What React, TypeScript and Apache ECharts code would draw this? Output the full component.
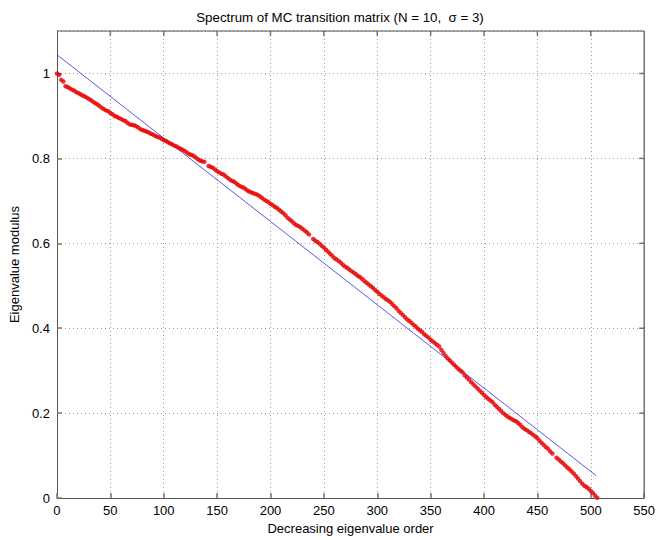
import React, { useEffect, useRef } from "react";
import * as echarts from "echarts";

const titleText = "Spectrum of MC transition matrix (N = 10,  \u03c3 = 3)";
const xName = "Decreasing eigenvalue order";
const yName = "Eigenvalue modulus";

// eigenvalue modulus sampled at every 2nd order index (0, 2, 4, ...); null = gap
const orderStep = 2;
const modulus: (number | null)[] = [
  1.0, 0.997, 0.985, 0.981, 0.97, 0.968, 0.965, 0.962, 0.96, 0.956,
  0.954, 0.951, 0.948, 0.946, 0.943, 0.94, 0.937, 0.933, 0.93, 0.927,
  0.923, 0.919, 0.916, 0.913, 0.911, 0.907, 0.904, 0.9, 0.898, 0.895,
  0.893, 0.89, 0.888, 0.884, 0.88, 0.879, 0.878, 0.876, 0.873, 0.869,
  0.867, 0.865, 0.863, 0.861, 0.858, 0.856, 0.853, 0.851, 0.849, 0.846,
  0.843, 0.841, 0.838, 0.835, 0.833, 0.83, 0.828, 0.825, 0.822, 0.82,
  0.817, 0.813, 0.81, 0.808, 0.806, 0.802, 0.798, 0.795, 0.793, 0.792,
  null, 0.782, 0.78, 0.778, 0.774, 0.77, 0.767, 0.764, 0.762, 0.758,
  0.754, 0.75, 0.747, 0.745, 0.741, 0.737, 0.734, 0.732, 0.729, 0.725,
  0.722, 0.72, 0.718, 0.716, 0.714, 0.711, 0.707, 0.703, 0.7, 0.697,
  0.693, 0.69, 0.686, 0.683, 0.679, 0.675, 0.671, 0.666, 0.66, 0.656,
  0.652, 0.647, 0.643, 0.641, 0.638, 0.634, 0.63, 0.626, 0.621, null,
  0.61, 0.606, 0.603, 0.599, 0.594, 0.59, 0.585, 0.58, 0.575, 0.57,
  0.565, 0.562, 0.558, 0.554, 0.549, 0.545, 0.542, 0.538, 0.534, 0.531,
  0.527, 0.523, 0.52, 0.516, 0.511, 0.507, 0.503, 0.499, 0.495, 0.49,
  0.486, 0.481, 0.477, 0.473, 0.469, 0.466, 0.462, 0.457, 0.452, 0.447,
  0.441, 0.436, 0.431, 0.426, 0.421, 0.417, 0.413, 0.408, 0.404, 0.399,
  0.395, 0.391, 0.386, 0.382, 0.378, 0.373, 0.369, 0.365, 0.361, 0.357,
  0.349, 0.342, 0.335, 0.329, 0.324, 0.319, 0.314, 0.309, 0.304, 0.3,
  0.296, 0.289, 0.284, 0.279, 0.273, 0.268, 0.263, 0.258, 0.253, 0.248,
  0.243, 0.238, 0.234, 0.23, 0.226, 0.22, 0.215, 0.21, 0.205, 0.2,
  0.196, 0.192, 0.189, 0.186, 0.183, 0.181, 0.177, 0.172, 0.167, 0.163,
  0.16, 0.156, 0.153, 0.149, 0.145, 0.141, 0.135, 0.13, 0.125, 0.12,
  0.116, 0.11, 0.105, null, 0.095, 0.091, 0.086, 0.082, 0.077, 0.072,
  0.068, 0.063, 0.058, 0.052, 0.046, 0.04, 0.034, 0.029, 0.026, 0.022,
  0.017, 0.012, 0.006, 0.001,
];

// fitted straight line endpoints
const fitX = [0, 505];
const fitY = [1.044, 0.053];

const xTicks = { min: 0, max: 550, interval: 50 };
const yTicks = { min: 0, max: 1.1, interval: 0.2 };
const xTickValues = [50, 100, 150, 200, 250, 300, 350, 400, 450, 500];
const yTickValues = [0.2, 0.4, 0.6, 0.8, 1.0];

const FONT = "'Liberation Sans', Arial, Helvetica, sans-serif";
const FRAME = "#555555";

export default function App() {
  const ref = useRef<HTMLDivElement>(null);
  useEffect(() => {
    if (!ref.current) return;
    const chart = echarts.init(ref.current, undefined, { renderer: "svg" });
    const pts: [number, number][] = [];
    modulus.forEach((v, i) => {
      if (v !== null) pts.push([i * orderStep, v]);
    });
    const mkLine = () => ({ show: true, onZero: false, lineStyle: { color: FRAME, width: 1 } });
    const mkTick = () => ({ show: true, inside: true, length: 5, lineStyle: { color: "#777", width: 1.5 } });
    const label = { color: "#000", fontSize: 13, fontFamily: FONT };
    const mkGrid = () => ({ show: true, lineStyle: { color: "#9a9a9a", type: [1, 3], width: 1 } });

    // mirrored inner ticks on top (kind 0) and right (kind 1), placed via the axes' scales
    const tickData: [number, number, number][] = [
      ...xTickValues.map((v) => [v, yTicks.max, 0] as [number, number, number]),
      ...yTickValues.map((v) => [xTicks.max, v, 1] as [number, number, number]),
    ];

    chart.setOption({
      animation: false,
      backgroundColor: "#fff",
      title: {
        text: titleText,
        left: 335,
        top: 6,
        textAlign: "center",
        textStyle: { fontSize: 13.3, fontWeight: "normal", color: "#000", fontFamily: FONT },
      },
      grid: { left: 53, right: 10, top: 31, bottom: 39, containLabel: false },
      xAxis: {
        type: "value",
        min: xTicks.min,
        max: xTicks.max,
        interval: xTicks.interval,
        name: xName,
        nameLocation: "middle",
        nameGap: 22,
        nameTextStyle: { color: "#000", fontSize: 13, fontFamily: FONT },
        axisLine: mkLine(),
        axisTick: mkTick(),
        axisLabel: { ...label, margin: 6 },
        splitLine: mkGrid(),
      },
      yAxis: {
        type: "value",
        min: yTicks.min,
        max: yTicks.max,
        interval: yTicks.interval,
        name: yName,
        nameLocation: "middle",
        nameGap: 30,
        nameTextStyle: { color: "#000", fontSize: 13, fontFamily: FONT },
        axisLine: mkLine(),
        axisTick: mkTick(),
        axisLabel: {
          ...label,
          margin: 7,
          showMaxLabel: false,
          formatter: (v: number) => (Math.abs(v - 1.1) < 1e-6 ? "" : String(Math.round(v * 10) / 10)),
        },
        splitLine: mkGrid(),
      },
      series: [
        {
          type: "scatter",
          data: pts,
          symbol: "circle",
          symbolSize: 4.5,
          itemStyle: { color: "#e60000" },
          silent: true,
          z: 3,
        },
        {
          type: "line",
          data: fitX.map((x, i) => [x, fitY[i]]),
          symbol: "none",
          lineStyle: { color: "#2f2fe0", width: 0.8 },
          silent: true,
          z: 2,
        },
        {
          // top and right edges of the plot box, along the axis limits
          type: "line",
          data: [
            [xTicks.min, yTicks.max],
            [xTicks.max, yTicks.max],
            [xTicks.max, yTicks.min],
          ],
          symbol: "none",
          clip: false,
          lineStyle: { color: FRAME, width: 1.2 },
          silent: true,
          z: 10,
        },
        {
          type: "custom",
          data: tickData,
          clip: false,
          silent: true,
          z: 10,
          renderItem: (params: any, api: any) => {
            const p = api.coord([api.value(0), api.value(1)]);
            const kind = api.value(2);
            const shape =
              kind === 0
                ? { x1: p[0], y1: p[1], x2: p[0], y2: p[1] + 5 }
                : { x1: p[0], y1: p[1], x2: p[0] - 5, y2: p[1] };
            return { type: "line", shape, style: { stroke: "#777", lineWidth: 1.5 } };
          },
        },
      ],
    });
    return () => chart.dispose();
  }, []);
  return <div ref={ref} style={{ position: "fixed", left: 0, top: 0, width: 658, height: 540 }} />;
}
